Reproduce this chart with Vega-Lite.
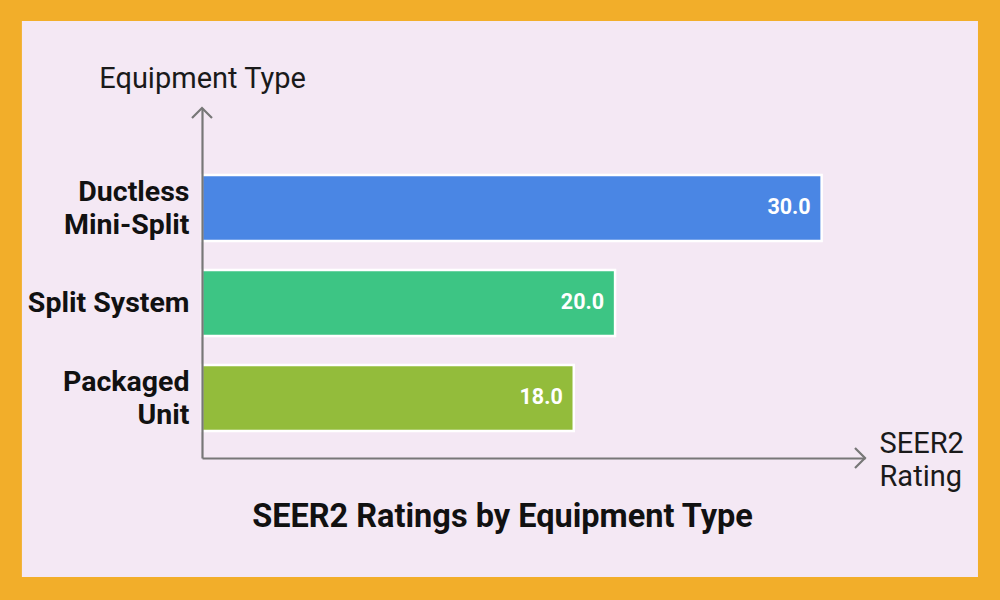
{
  "$schema": "https://vega.github.io/schema/vega-lite/v6.json",
  "autosize": "none",
  "width": 663,
  "height": 350,
  "padding": {"left": 202, "top": 108, "right": 135, "bottom": 142},
  "background": "#F2AE2A",
  "config": {"view": {"stroke": null}, "font": "Roboto"},
  "title": {
    "text": "SEER2 Ratings by Equipment Type",
    "orient": "bottom",
    "frame": "group",
    "anchor": "middle",
    "dx": -31,
    "offset": -50,
    "baseline": "alphabetic",
    "fontSize": 32.5,
    "fontWeight": "bold",
    "color": "#111111",
    "font": "Roboto",
    "zindex": 1
  },
  "data": {
    "values": [
      {"type": "Ductless\nMini-Split", "rating": 30},
      {"type": "Split System", "rating": 20},
      {"type": "Packaged\nUnit", "rating": 18}
    ]
  },
  "layer": [
    {
      "data": {"values": [{}]},
      "layer": [
        {
          "mark": {"type": "rect", "fill": "#F4E8F4"},
          "encoding": {
            "x": {"datum": -8.72, "type": "quantitative", "scale": {"domain": [0, 32.1], "nice": false}},
            "x2": {"datum": 37.57},
            "y": {"datum": 1.2486, "type": "quantitative", "scale": {"domain": [0, 1], "nice": false, "zero": false}, "axis": null},
            "y2": {"datum": -0.34}
          }
        },
        {
          "mark": {"type": "point", "shape": "M-1,1L0,0L1,1", "filled": false, "stroke": "#777777", "strokeWidth": 2.2, "size": 400, "opacity": 1},
          "encoding": {
            "x": {"datum": 0, "type": "quantitative"},
            "y": {"datum": 1, "type": "quantitative"}
          }
        },
        {
          "mark": {"type": "point", "shape": "M-1,-1L0,0L-1,1", "filled": false, "stroke": "#777777", "strokeWidth": 2.2, "size": 400, "opacity": 1},
          "encoding": {
            "x": {"datum": 32.1, "type": "quantitative"},
            "y": {"datum": 0, "type": "quantitative"}
          }
        }
      ]
    },
    {
      "layer": [
        {
          "mark": {"type": "bar", "stroke": "white", "strokeWidth": 2.5},
          "encoding": {
            "y": {
              "field": "type",
              "type": "nominal",
              "sort": null,
              "scale": {"paddingInner": 0.305, "paddingOuter": 0.495, "align": 0.713},
              "axis": {
                "orient": "left",
                "title": "Equipment Type",
                "titleAngle": 0,
                "titleX": 0,
                "titleY": -21,
                "titleAlign": "center",
                "titleBaseline": "alphabetic",
                "titleFontSize": 29,
                "titleFontWeight": "normal",
                "titleColor": "#1a1a1a",
                "titleFont": "Roboto",
                "labelExpr": "split(datum.label, '\\n')",
                "labelOffset": {"condition": {"test": "indexof(datum.value, '\\n') >= 0", "value": -16}, "value": 0},
                "labelFontSize": 28.5,
                "labelFontWeight": "bold",
                "labelColor": "#111111",
                "labelFont": "Roboto",
                "labelPadding": 13,
                "labelLineHeight": 33,
                "labelLimit": 0,
                "ticks": false,
                "grid": false,
                "domainColor": "#777777",
                "domainWidth": 2.2,
                "zindex": 1
              }
            },
            "x": {
              "field": "rating",
              "type": "quantitative",
              "scale": {"domain": [0, 32.1], "nice": false},
              "axis": {
                "title": ["SEER2", "Rating"],
                "labels": false,
                "ticks": false,
                "grid": false,
                "domainColor": "#777777",
                "domainWidth": 2.2,
                "titleX": 677,
                "titleY": -6,
                "titleAlign": "left",
                "titleBaseline": "alphabetic",
                "titleFontSize": 29,
                "titleFontWeight": "normal",
                "titleColor": "#1a1a1a",
                "titleFont": "Roboto",
                "titleLineHeight": 33,
                "zindex": 1
              }
            },
            "color": {
              "field": "type",
              "type": "nominal",
              "scale": {
                "domain": ["Ductless\nMini-Split", "Split System", "Packaged\nUnit"],
                "range": ["#4A86E4", "#3DC584", "#93BC3B"]
              },
              "legend": null
            }
          }
        },
        {
          "mark": {"type": "text", "align": "right", "baseline": "middle", "dx": -11, "color": "white", "fontSize": 21.5, "fontWeight": "bold", "font": "Roboto"},
          "encoding": {
            "y": {"field": "type", "type": "nominal", "sort": null},
            "x": {"field": "rating", "type": "quantitative"},
            "text": {"field": "rating", "type": "quantitative", "format": ".1f"}
          }
        }
      ]
    }
  ],
  "resolve": {"scale": {"y": "independent"}}
}
